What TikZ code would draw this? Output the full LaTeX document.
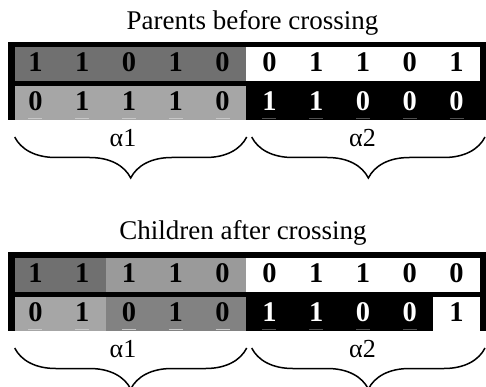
\documentclass[tikz,border=0pt]{standalone}
\usepackage{fontspec}
\setmainfont{Liberation Serif}
\usetikzlibrary{decorations.pathreplacing}

% cell shades
\definecolor{gdark}{HTML}{707070}
\definecolor{glight}{HTML}{A6A6A6}
\definecolor{gmidlight}{HTML}{9A9A9A}
\definecolor{gmiddark}{HTML}{828282}
\definecolor{tickgray}{HTML}{C8C8C8}
\definecolor{tickdark}{HTML}{505050}

\newcommand\bitfont{\fontsize{28.5}{30}\selectfont\bfseries}
\newcommand\titlefont{\fontsize{27}{30}\selectfont}
\newcommand\labelfont{\fontsize{26}{30}\selectfont}

% one row of ten bit cells: name prefix, centre y, height, list digit/fill/text
\newcommand\bitrow[4]{%
  \foreach \d/\bg/\fg [count=\i from 0] in {#4}{%
    \node[bitcell, fill=\bg, text=\fg, minimum height=#3] (#1\i) at ({35.4+46.8*\i}, #2) {\d};
  }%
}
% faint marks along the bottom of a row
\newcommand\bitticks[2]{%
  \foreach \c [count=\i from 0] in {#2}{%
    \draw[tickline, draw=\c] ({35.4+46.8*\i-7}, #1) -- ({35.4+46.8*\i+7}, #1);
  }%
}

\begin{document}
\begin{tikzpicture}[x=1pt, y=-1pt,
  bitcell/.style={draw=none, inner sep=0pt, outer sep=0pt,
    minimum width=46.8pt, text height=19.5pt, text depth=5pt, font=\bitfont},
  heading/.style={anchor=base, inner sep=0pt, font=\titlefont},
  seglabel/.style={anchor=base, inner sep=0pt, font=\labelfont},
  spanbrace/.style={decorate, decoration={brace, mirror, amplitude=41pt},
    line width=1.5pt},
  tickline/.style={line width=0.8pt},
]
\useasboundingbox (0,0) rectangle (486,387);

% ---------- parents ----------
\node[heading] (ptitle) at (252.5,29.3) {Parents before crossing};
\fill[black] (8,42) rectangle (486,120);
\bitrow{pa}{64.25}{33.5pt}{1/gdark/black,1/gdark/black,0/gdark/black,1/gdark/black,0/gdark/black,
  0/white/black,1/white/black,1/white/black,0/white/black,1/white/black}
\bitrow{pb}{103}{34pt}{0/glight/black,1/glight/black,1/glight/black,1/glight/black,0/glight/black,
  1/black/white,1/black/white,0/black/white,0/black/white,0/black/white}
\bitticks{118.3}{tickgray,tickgray,tickgray,tickgray,tickgray,tickdark,tickdark,tickdark,tickdark,tickdark}
\fill[black] (8,42) rectangle (14.6,120);
\fill[black] (480,42) rectangle (486,120);

\coordinate (pl1) at (14.7,137);
\coordinate (pl2) at (246.7,137);
\coordinate (pr1) at (251.7,137);
\coordinate (pr2) at (485,137);
\draw[spanbrace] (pl1) -- (pl2);
\draw[spanbrace] (pr1) -- (pr2);
\node[seglabel] (pal1) at (123,146.7) {α1};
\node[seglabel] (pal2) at (362.5,146.7) {α2};

% ---------- children ----------
\node[heading] (ctitle) at (243,239.3) {Children after crossing};
\fill[black] (8,252) rectangle (486,331);
\bitrow{ca}{275}{34pt}{1/gdark/black,1/gdark/black,1/gmidlight/black,1/gmidlight/black,0/gmidlight/black,
  0/white/black,1/white/black,1/white/black,0/white/black,0/white/black}
\bitrow{cb}{314}{34pt}{0/glight/black,1/glight/black,0/gmiddark/black,1/gmiddark/black,0/gmiddark/black,
  1/black/white,1/black/white,0/black/white,0/black/white,1/white/black}
\bitticks{329.3}{tickgray,tickgray,tickgray,tickgray,tickgray,tickdark,tickdark,tickdark,tickdark,white}
\fill[black] (8,252) rectangle (14.6,331);
\fill[black] (480,252) rectangle (486,331);

\coordinate (cl1) at (14.7,348);
\coordinate (cl2) at (246.7,348);
\coordinate (cr1) at (251.7,348);
\coordinate (cr2) at (485,348);
\draw[spanbrace] (cl1) -- (cl2);
\draw[spanbrace] (cr1) -- (cr2);
\node[seglabel] (cal1) at (123,357.7) {α1};
\node[seglabel] (cal2) at (362.5,357.7) {α2};
\end{tikzpicture}
\end{document}
